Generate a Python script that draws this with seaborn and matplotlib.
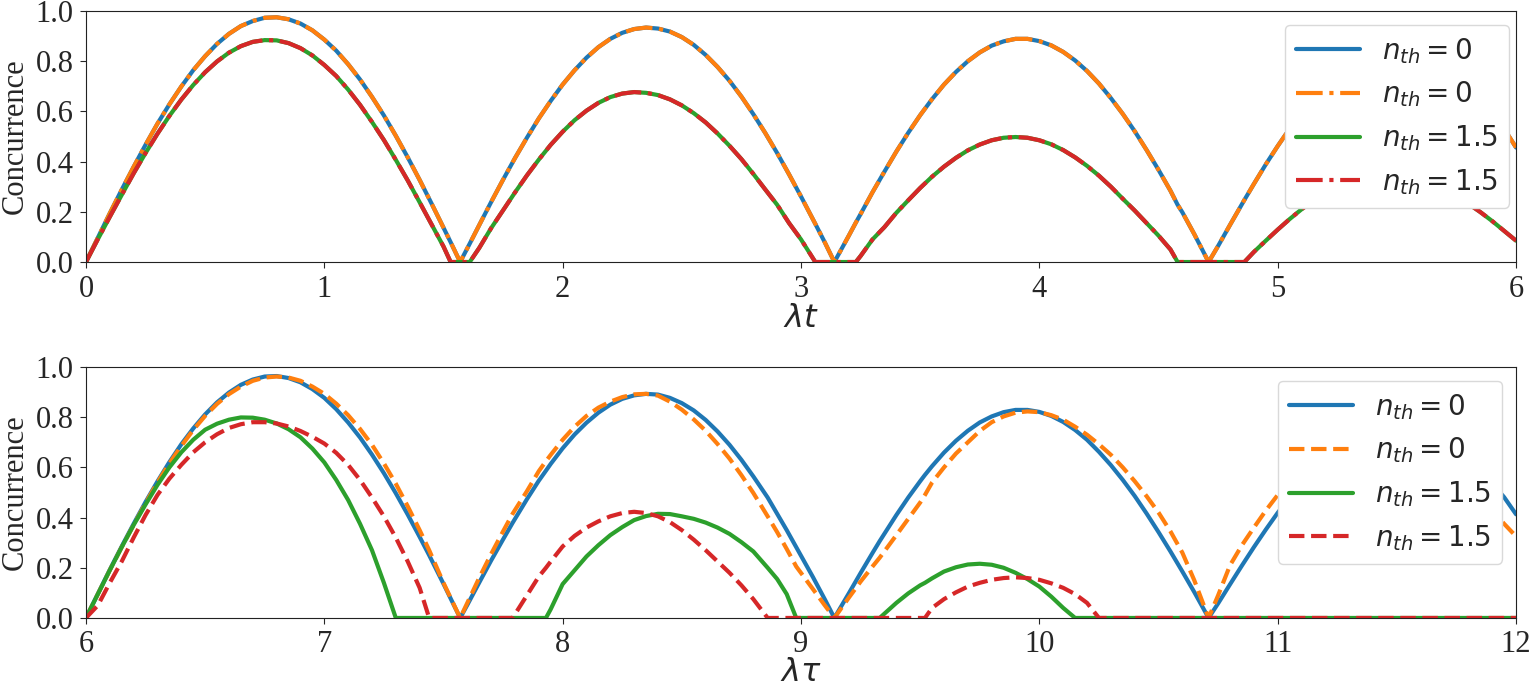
import numpy as np
import pandas as pd
import matplotlib
matplotlib.use('Agg')
import matplotlib.pyplot as plt
import seaborn as sns

# ── data ────────────────────────────────────────────────────────────────────
# top panel: concurrence vs lambda*t (the dash-dot curves sit on the solid ones)
t_top = ([0.0, 0.05, 0.1, 0.15, 0.2, 0.25, 0.3, 0.35, 0.4, 0.45, 0.5, 0.55, 0.6, 0.65, 0.7, 0.75,
          0.8, 0.85, 0.9, 0.95, 1.0, 1.05, 1.1, 1.15, 1.2, 1.25, 1.3, 1.35, 1.4, 1.45, 1.5]
         + [1.53, 1.57, 1.61]
         + [1.65, 1.7, 1.75, 1.8, 1.85, 1.9, 1.95, 2.0, 2.05, 2.1, 2.15, 2.2, 2.25, 2.3,
            2.35, 2.4, 2.45, 2.5, 2.55, 2.6, 2.65, 2.7, 2.75, 2.8, 2.85, 2.9, 2.95, 3.0]
         + [3.06, 3.1, 3.14, 3.2, 3.23]
         + [3.25, 3.3, 3.35, 3.4, 3.45, 3.5, 3.55, 3.6, 3.65, 3.7, 3.75, 3.8, 3.85,
            3.9, 3.95, 4.0, 4.05, 4.1, 4.15, 4.2, 4.25, 4.3, 4.35, 4.4, 4.45, 4.5]
         + [4.55, 4.58, 4.6, 4.65, 4.71, 4.75, 4.8, 4.86]
         + [4.9, 4.95, 5.0, 5.05, 5.1, 5.15, 5.2, 5.25, 5.3, 5.35, 5.4, 5.45,
            5.5, 5.55, 5.6, 5.65, 5.7, 5.75, 5.8, 5.85, 5.9, 5.95, 6.0])

c_top_n0 = ([0.0, .097, .194, .288, .379, .467, .551, .628, .699, .764, .820, .869, .909, .940, .960, .973,
             .975, .967, .950, .923, .886, .842, .788, .727, .658, .584, .503, .417, .327, .233, .137]
            + [.079, 0.0, .073]
            + [.147, .239, .328, .414, .495, .572, .642, .707, .764, .814, .856, .889, .913, .928,
               .934, .930, .918, .896, .865, .825, .777, .722, .659, .589, .514, .434, .349, .261]
            + [.152, .078, 0.0, .104, .157]
            + [.191, .278, .360, .440, .515, .585, .649, .707, .757, .800, .835, .862, .879,
               .889, .889, .880, .863, .837, .803, .761, .711, .653, .590, .521, .446, .367]
            + [.284, .228, .198, .111, 0.0, .064, .148, .247]
            + [.311, .389, .462, .531, .595, .651, .704, .748, .785, .815, .834, .847,
               .850, .845, .833, .809, .784, .744, .702, .651, .592, .531, .456])

c_top_n15 = ([0.0, .091, .180, .267, .353, .434, .511, .582, .647, .705, .756, .799, .834, .860, .877, .884,
              .883, .872, .852, .823, .785, .741, .687, .626, .558, .486, .407, .325, .238, .150, .062]
             + [0.0, 0.0, 0.0]
             + [.056, .135, .206, .277, .345, .408, .467, .519, .565, .603, .634, .657, .671, .677,
                .674, .665, .648, .624, .593, .556, .512, .463, .410, .351, .289, .228, .155, .090]
             + [0.0, 0.0, 0.0, 0.0, 0.0]
             + [.024, .090, .139, .196, .246, .295, .340, .380, .415, .445, .468, .485, .495,
                .498, .495, .485, .469, .446, .417, .383, .344, .300, .252, .205, .155, .105]
             + [.050, 0.0, 0.0, 0.0, 0.0, 0.0, 0.0, 0.0]
             + [.040, .085, .129, .171, .210, .245, .276, .302, .323, .338, .347, .350,
                .348, .340, .327, .310, .288, .262, .232, .199, .163, .124, .085])

# bottom panel: concurrence vs lambda*tau
t_bot = ([6.0, 6.05, 6.1, 6.15, 6.2, 6.25, 6.3, 6.35, 6.4, 6.45, 6.5, 6.55, 6.6, 6.65, 6.7,
          6.75, 6.8, 6.85, 6.9, 6.95, 7.0, 7.05, 7.1, 7.15, 7.2, 7.25, 7.3, 7.35, 7.4]
         + [7.44, 7.5, 7.57, 7.6, 7.65, 7.7, 7.75, 7.79, 7.85, 7.9, 7.93]
         + [7.95, 8.0, 8.05, 8.1, 8.15, 8.2, 8.25, 8.3, 8.35, 8.4, 8.45, 8.5, 8.55, 8.6,
            8.65, 8.7, 8.75, 8.8]
         + [8.86, 8.9, 8.94, 8.98, 9.05, 9.1, 9.14, 9.2, 9.25, 9.3, 9.33, 9.4, 9.45, 9.5, 9.52]
         + [9.55, 9.6, 9.65, 9.7, 9.75, 9.8, 9.85, 9.9, 9.95, 10.0, 10.05, 10.1]
         + [10.15, 10.2, 10.25, 10.3, 10.35, 10.4, 10.45, 10.5, 10.55, 10.6, 10.65, 10.71]
         + [10.75, 10.8, 10.85, 10.9, 10.95, 11.0, 11.05, 11.1, 11.15, 11.2, 11.25, 11.3, 11.35,
            11.4, 11.45, 11.5, 11.55, 11.6, 11.65, 11.7, 11.75, 11.8, 11.85, 11.9, 11.95, 12.0])

c_bot_n0_solid = ([0.0, .096, .192, .285, .375, .462, .544, .621, .692, .755, .811, .859, .898, .929, .950,
                   .962, .964, .956, .939, .912, .877, .832, .779, .719, .651, .577, .497, .412, .323]
                  + [.250, .136, 0.0, .052, .141, .229, .313, .379, .473, .547, .587]
                  + [.614, .676, .731, .778, .818, .850, .873, .887, .893, .890, .877, .856, .827, .789,
                     .743, .690, .630, .564]
                  + [.480, .415, .350, .282, .163, .074, 0.0, .097, .179, .259, .306, .410, .480, .545, .570]
                  + [.605, .659, .706, .746, .779, .803, .820, .829, .829, .821, .805, .781]
                  + [.749, .710, .662, .609, .550, .486, .416, .342, .265, .185, .103, 0.0]
                  + [.058, .134, .209, .282, .352, .419, .481, .539, .590, .638, .677, .711, .738,
                     .755, .768, .770, .766, .755, .733, .710, .674, .636, .590, .537, .481, .413])

c_bot_n0_dash = ([0.0, .095, .190, .282, .370, .457, .540, .616, .685, .749, .805, .853, .892, .922, .945,
                  .958, .962, .958, .945, .922, .893, .854, .808, .753, .690, .616, .535, .445, .350]
                 + [.270, .140, 0.0, .060, .160, .255, .345, .415, .505, .585, .625]
                 + [.650, .710, .762, .805, .838, .862, .880, .891, .893, .886, .862, .830, .791, .746,
                    .693, .635, .569, .498]
                 + [.405, .342, .275, .205, .115, .050, 0.0, .080, .145, .205, .240, .330, .395, .460, .490]
                 + [.540, .600, .655, .700, .745, .780, .803, .818, .823, .820, .808, .790]
                 + [.762, .730, .692, .650, .600, .545, .485, .420, .345, .260, .150, 0.0]
                 + [.090, .210, .290, .360, .428, .490, .548, .600, .648, .690, .723, .750, .768,
                    .780, .780, .770, .754, .730, .695, .650, .603, .550, .492, .430, .375, .325])

c_bot_n15_solid = ([0.0, .095, .190, .282, .370, .452, .530, .600, .660, .710, .750, .774, .790, .799, .798,
                    .790, .775, .752, .720, .675, .620, .550, .470, .375, .270, .140, 0.0, 0.0, 0.0]
                   + [0.0] * 11
                   + [.035, .135, .190, .245, .290, .330, .362, .390, .406, .415, .414, .405, .395, .380,
                      .360, .335, .302, .265]
                   + [.200, .155, .095, 0.0, 0.0, 0.0, 0.0, 0.0, 0.0, 0.0, 0.0, .060, .098, .130, .140]
                   + [.158, .185, .202, .213, .216, .212, .200, .180, .155, .125, .085, .040]
                   + [0.0] * 12
                   + [0.0] * 26)

c_bot_n15_dash = ([0.0, .050, .140, .225, .320, .410, .490, .555, .610, .660, .700, .732, .757, .772, .780,
                   .780, .775, .763, .745, .722, .695, .658, .610, .550, .480, .405, .320, .225, .120]
                  + [0.0, 0.0, 0.0, 0.0, 0.0, 0.0, 0.0, 0.0, .090, .165, .200]
                  + [.225, .285, .327, .360, .385, .405, .418, .423, .418, .405, .382, .350, .312, .270,
                     .225, .180, .130, .075]
                  + [0.0] * 15
                  + [.040, .075, .102, .125, .140, .152, .159, .162, .159, .152, .138, .120]
                  + [.095, .060, 0.0, 0.0, 0.0, 0.0, 0.0, 0.0, 0.0, 0.0, 0.0, 0.0]
                  + [0.0] * 26)

labels = [r'$n_{th} = 0$', r'$n_{th} = 0$', r'$n_{th} = 1.5$', r'$n_{th} = 1.5$']
colors = ['#1f77b4', '#ff7f0e', '#2ca02c', '#d62728']

# ── style ───────────────────────────────────────────────────────────────────
sns.set_style('ticks')
plt.rcParams['font.family'] = ['Liberation Serif', 'DejaVu Serif']
plt.rcParams['mathtext.fontset'] = 'dejavusans'
plt.rcParams['xtick.major.pad'] = 4.5
plt.rcParams['ytick.major.pad'] = 4.5
plt.rcParams['xtick.major.size'] = 4.5
plt.rcParams['ytick.major.size'] = 4.5
plt.rcParams['axes.edgecolor'] = '#222222'

fig = plt.figure(figsize=(15.32, 6.87), dpi=100)
ax_top = fig.add_axes([0.0561, 0.6186, 0.9335, 0.3654])
ax_bot = fig.add_axes([0.0561, 0.1005, 0.9335, 0.3653])


def draw_panel(ax, t, series, styles, xlim, xlabel, anchor, pad):
    for y, ls, color, lab in zip(series, styles, colors, labels):
        sns.lineplot(x=t, y=y, ax=ax, color=color, lw=3, linestyle=ls,
                     label=lab, errorbar=None, sort=False)
    ax.set_xlim(*xlim)
    ax.set_ylim(0, 1.0)
    ax.set_yticks([0.0, 0.2, 0.4, 0.6, 0.8, 1.0])
    ax.set_yticklabels(['0.0', '0.2', '0.4', '0.6', '0.8', '1.0'])
    ax.tick_params(labelsize=22)
    ax.set_ylabel('Concurrence', fontsize=22)
    ax.set_xlabel(xlabel, fontsize=23, labelpad=pad)
    for sp in ax.spines.values():
        sp.set_visible(True)
    leg = ax.legend(loc='upper right', bbox_to_anchor=anchor, fontsize=20,
                    frameon=True, framealpha=1.0, handlelength=2.3, labelspacing=0.5)
    leg.get_frame().set_edgecolor('#d9d9d9')


draw_panel(ax_top, t_top, [c_top_n0, c_top_n0, c_top_n15, c_top_n15],
           ['-', '-.', '-', '-.'], (0, 6), r'$\lambda t$', (1.005, 1.0), 1)
ax_top.set_xticks([0, 1, 2, 3, 4, 5, 6])

draw_panel(ax_bot, t_bot, [c_bot_n0_solid, c_bot_n0_dash, c_bot_n15_solid, c_bot_n15_dash],
           ['-', '--', '-', '--'], (6, 12), r'$\lambda \tau$', (1.0, 1.0), 0)
ax_bot.set_xticks([6, 7, 8, 9, 10, 11, 12])

fig.savefig('out.png', dpi=100)
